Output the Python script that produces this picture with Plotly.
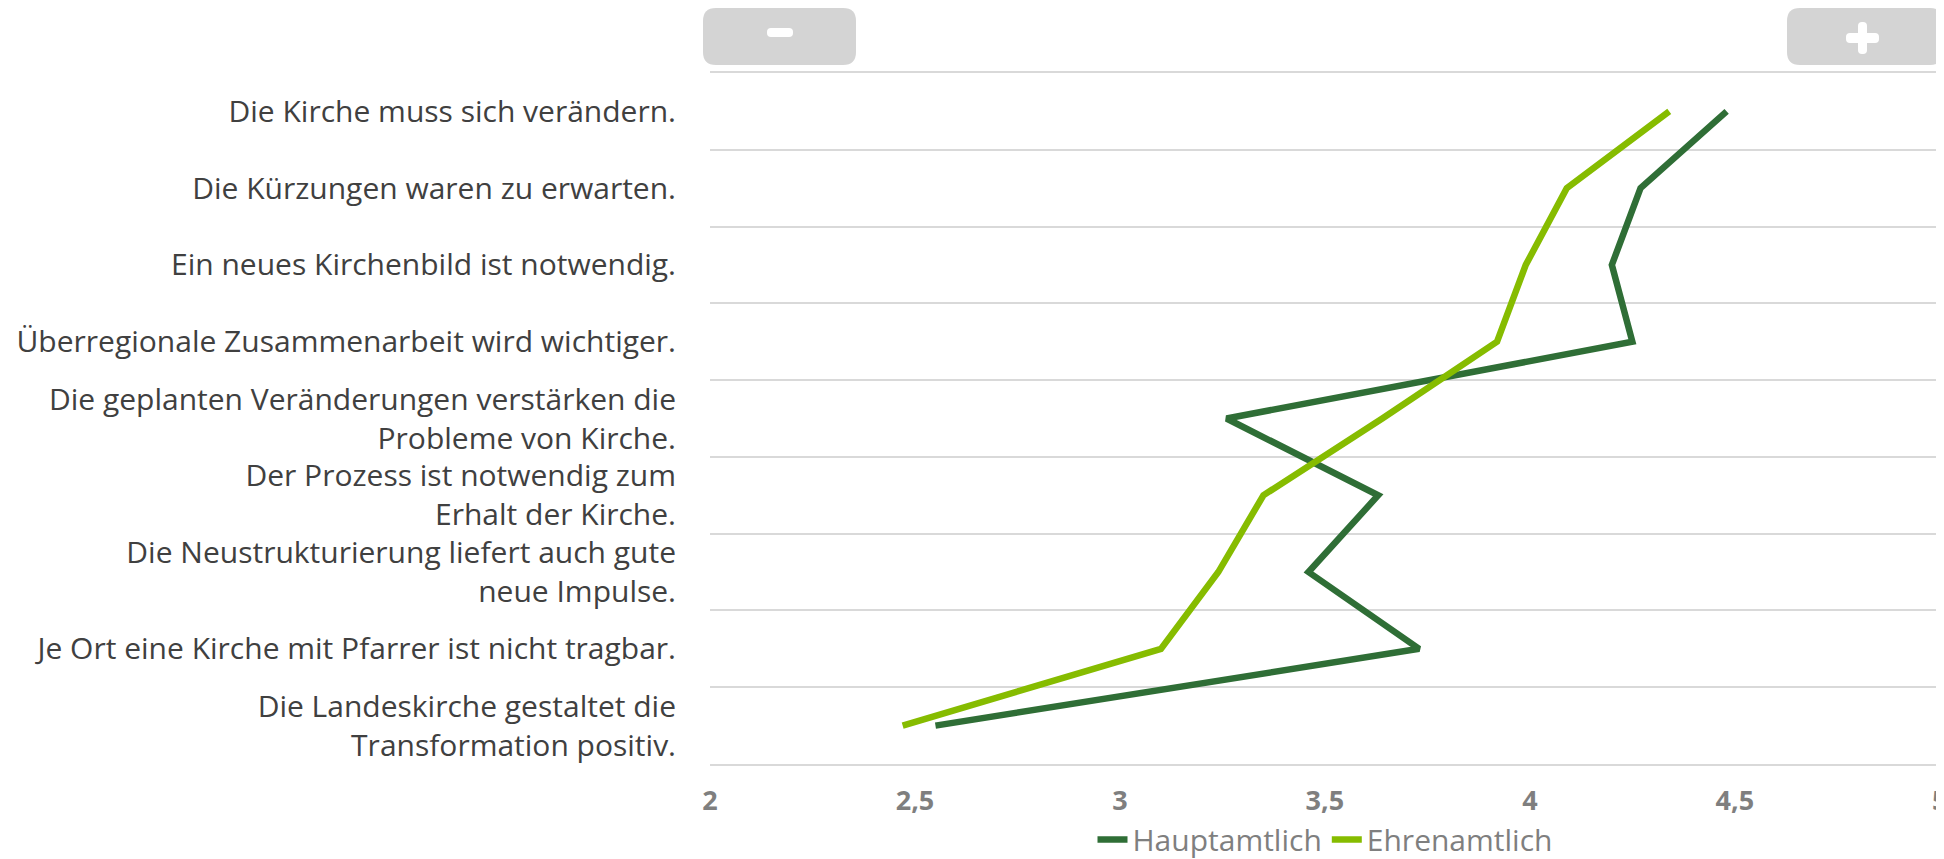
import plotly.graph_objects as go

statements = [
    "Die Kirche muss sich verändern.",
    "Die Kürzungen waren zu erwarten.",
    "Ein neues Kirchenbild ist notwendig.",
    "Überregionale Zusammenarbeit wird wichtiger.",
    "Die geplanten Veränderungen verstärken die<br>Probleme von Kirche.",
    "Der Prozess ist notwendig zum<br>Erhalt der Kirche.",
    "Die Neustrukturierung liefert auch gute<br>neue Impulse.",
    "Je Ort eine Kirche mit Pfarrer ist nicht tragbar.",
    "Die Landeskirche gestaltet die<br>Transformation positiv.",
]
hauptamtlich = [4.48, 4.27, 4.20, 4.25, 3.26, 3.63, 3.46, 3.73, 2.55]
ehrenamtlich = [4.34, 4.09, 3.99, 3.92, 3.64, 3.35, 3.24, 3.10, 2.47]
x_ticks = [2, 2.5, 3, 3.5, 4, 4.5, 5]
x_ticktext = ["2", "2,5", "3", "3,5", "4", "4,5", "5"]

pos = list(range(len(statements)))

fig = go.Figure()
fig.add_trace(go.Scatter(
    x=hauptamtlich, y=pos, mode="lines", name="Hauptamtlich",
    line=dict(color="#2f6e36", width=6.5),
))
fig.add_trace(go.Scatter(
    x=ehrenamtlich, y=pos, mode="lines", name="Ehrenamtlich",
    line=dict(color="#86bc00", width=6.5),
))


def rounded_rect(x0, y0, x1, y1, r):
    # pixel offsets, y grows upwards
    return (f"M{x0 + r},{y0} L{x1 - r},{y0} Q{x1},{y0} {x1},{y0 + r} "
            f"L{x1},{y1 - r} Q{x1},{y1} {x1 - r},{y1} L{x0 + r},{y1} "
            f"Q{x0},{y1} {x0},{y1 - r} L{x0},{y0 + r} Q{x0},{y0} {x0 + r},{y0} Z")


# zoom buttons, pixel offsets from the plot's top-left corner
buttons = [
    (rounded_rect(-7, 8, 146, 65, 13), "#d4d4d4"),
    (rounded_rect(57, 36, 83, 45, 4), "white"),
    (rounded_rect(1077, 8, 1233, 65, 13), "#d4d4d4"),
    (rounded_rect(1148, 19, 1157, 51, 4), "white"),
    (rounded_rect(1136, 30, 1169, 40, 4), "white"),
]
for path, col in buttons:
    fig.add_shape(type="path", path=path, xref="paper", yref="paper",
                  xsizemode="pixel", ysizemode="pixel", xanchor=0, yanchor=1,
                  fillcolor=col, line=dict(width=0), layer="above")

# page body adds 8px, so the figure is 8px smaller than the window
fig.update_layout(
    width=1936, height=851,
    margin=dict(l=702, r=4, t=65, b=95, autoexpand=False),
    plot_bgcolor="white", paper_bgcolor="white",
    font=dict(family="Open Sans", color="#404040"),
    showlegend=True,
    legend=dict(orientation="h", x=0.5, xanchor="center",
                yref="container", y=0.023, yanchor="middle",
                font=dict(size=30, color="#7f7f7f"), bgcolor="rgba(0,0,0,0)"),
    xaxis=dict(range=[2, 5.0005], tickvals=x_ticks, ticktext=x_ticktext,
               showgrid=False, zeroline=False, automargin=False,
               showline=True, mirror=True, linecolor="#d9d9d9", linewidth=2,
               tickfont=dict(size=27, color="#7f7f7f", family="Open Sans", weight="bold"),
               ticklabelstandoff=12, ticklabeloverflow="allow"),
    yaxis=dict(range=[8.5, -0.5], tickvals=pos, ticktext=statements,
               showgrid=False, zeroline=False, showline=False, automargin=False,
               tickfont=dict(size=30, color="#404040"),
               ticklabelstandoff=33,
               minor=dict(tickvals=[i - 0.5 for i in range(len(statements) + 1)],
                          showgrid=True, gridcolor="#d9d9d9", gridwidth=2)),
)

fig.write_html("out.html")
